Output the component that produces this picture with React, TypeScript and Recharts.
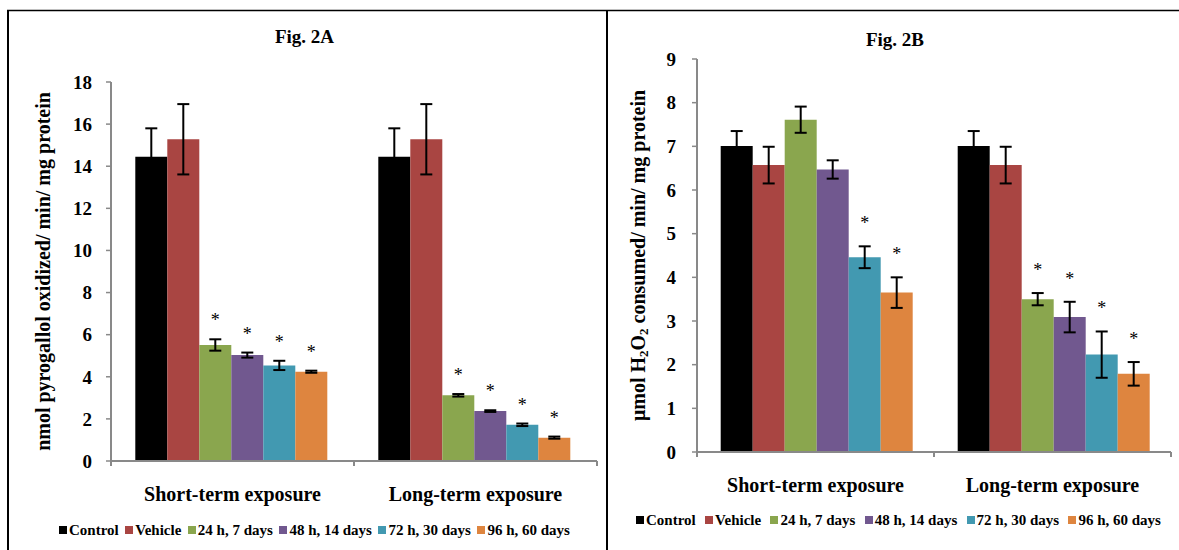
import React from 'react';
import { BarChart, Bar, XAxis, YAxis, ErrorBar, LabelList, Label } from 'recharts';

const FONT = '"Liberation Serif", "Times New Roman", Times, serif';
const AXIS_GRAY = '#898989';

const CATEGORIES = ['Short-term exposure', 'Long-term exposure'];
const SERIES_KEYS = ['control', 'vehicle', 'd7', 'd14', 'd30', 'd60'];
const SERIES_NAMES = ['Control', 'Vehicle', '24 h, 7 days', '48 h, 14 days', '72 h, 30 days', '96 h, 60 days'];
const SERIES_COLORS = ['#000000', '#A94542', '#8AA64E', '#71588F', '#4299B1', '#DE853F'];

// Fig. 2A  (nmol pyrogallol oxidized / min / mg protein)
const A_CONTROL = [14.45, 14.45];
const A_VEHICLE = [15.28, 15.28];
const A_D7 = [5.51, 3.12];
const A_D14 = [5.03, 2.37];
const A_D30 = [4.54, 1.72];
const A_D60 = [4.24, 1.11];
const A_CONTROL_SD = [1.35, 1.35];
const A_VEHICLE_SD = [1.67, 1.67];
const A_D7_SD = [0.27, 0.06];
const A_D14_SD = [0.12, 0.04];
const A_D30_SD = [0.22, 0.06];
const A_D60_SD = [0.05, 0.05];
const A_TICKS = [0, 2, 4, 6, 8, 10, 12, 14, 16, 18];
const A_STARRED = [['d7', 'd14', 'd30', 'd60'], ['d7', 'd14', 'd30', 'd60']];

// Fig. 2B  (umol H2O2 consumed / min / mg protein)
const B_CONTROL = [7.01, 7.01];
const B_VEHICLE = [6.57, 6.57];
const B_D7 = [7.61, 3.5];
const B_D14 = [6.47, 3.09];
const B_D30 = [4.46, 2.23];
const B_D60 = [3.65, 1.79];
const B_CONTROL_SD = [0.34, 0.34];
const B_VEHICLE_SD = [0.42, 0.42];
const B_D7_SD = [0.3, 0.14];
const B_D14_SD = [0.21, 0.35];
const B_D30_SD = [0.25, 0.53];
const B_D60_SD = [0.35, 0.27];
const B_TICKS = [0, 1, 2, 3, 4, 5, 6, 7, 8, 9];
const B_STARRED = [['d30', 'd60'], ['d7', 'd14', 'd30', 'd60']];

function buildRows(values: number[][], sds: number[][]) {
  return CATEGORIES.map((category, i) => {
    const row: Record<string, any> = { category };
    SERIES_KEYS.forEach((k, s) => {
      row[k] = values[s][i];
      row[k + 'Sd'] = sds[s][i];
    });
    return row;
  });
}

const rowsA = buildRows(
  [A_CONTROL, A_VEHICLE, A_D7, A_D14, A_D30, A_D60],
  [A_CONTROL_SD, A_VEHICLE_SD, A_D7_SD, A_D14_SD, A_D30_SD, A_D60_SD]
);
const rowsB = buildRows(
  [B_CONTROL, B_VEHICLE, B_D7, B_D14, B_D30, B_D60],
  [B_CONTROL_SD, B_VEHICLE_SD, B_D7_SD, B_D14_SD, B_D30_SD, B_D60_SD]
);

function makeStar(rows: any[], key: string, starred: string[][], gap: number) {
  return (props: any) => {
    const vb = props.viewBox || {};
    const x = Number(props.x ?? vb.x);
    const y = Number(props.y ?? vb.y);
    const w = Number(props.width ?? vb.width);
    const h = Number(props.height ?? vb.height);
    const idx = props.index;
    if (idx == null || !starred[idx] || !starred[idx].includes(key)) return null;
    const row = rows[idx];
    const value = row[key];
    const sd = row[key + 'Sd'];
    const pxPerUnit = Math.abs(h) / value;
    const top = Math.min(y, y + h) - sd * pxPerUnit;
    return (
      <text
        x={x + w / 2}
        y={top - gap + 9}
        textAnchor="middle"
        fontSize={18}
        fontFamily={FONT}
        fill="#000"
      >
        *
      </text>
    );
  };
}

function makeCategoryTick(fallbackHalf: number) {
  return (props: any) => {
    const { x, y, payload, index } = props;
    const half = payload && typeof payload.offset === 'number' && payload.offset > 0 ? payload.offset : fallbackHalf;
    const axisY = Number(y);
    return (
      <g>
        <line x1={x - half} y1={axisY} x2={x - half} y2={axisY + 5} stroke={AXIS_GRAY} strokeWidth={2} />
        {index === CATEGORIES.length - 1 ? (
          <line x1={x + half} y1={axisY} x2={x + half} y2={axisY + 5} stroke={AXIS_GRAY} strokeWidth={2} />
        ) : null}
        <text x={x} y={axisY + 40} textAnchor="middle" fontSize={20} fontWeight="bold" fontFamily={FONT} fill="#000">
          {payload.value}
        </text>
      </g>
    );
  };
}

const yLabelA = (props: any) => {
  const vb = props.viewBox || { x: 0, y: 82, width: 111, height: 379 };
  const cx = vb.x + 43;
  const cy = vb.y + vb.height / 2;
  return (
    <text
      x={cx}
      y={cy}
      transform={`rotate(-90 ${cx} ${cy})`}
      textAnchor="middle"
      dominantBaseline="central"
      fontSize={20}
      fontWeight="bold"
      fontFamily={FONT}
      fill="#000"
    >
      nmol pyrogallol oxidized/ min/ mg protein
    </text>
  );
};

const yLabelB = (props: any) => {
  const vb = props.viewBox || { x: 0, y: 59, width: 97, height: 393 };
  const cx = vb.x + 38;
  const cy = vb.y + vb.height / 2;
  return (
    <text
      x={cx}
      y={cy}
      transform={`rotate(-90 ${cx} ${cy})`}
      textAnchor="middle"
      dominantBaseline="central"
      fontSize={20}
      fontWeight="bold"
      fontFamily={FONT}
      fill="#000"
    >
      <tspan>μmol H</tspan>
      <tspan fontSize={13} dy={5}>2</tspan>
      <tspan dy={-5}>O</tspan>
      <tspan fontSize={13} dy={5}>2</tspan>
      <tspan dy={-5}> consumed/ min/ mg protein</tspan>
    </text>
  );
};

const tickStyle = { fontSize: 19, fontWeight: 'bold', fill: '#000', fontFamily: FONT };

function Legend({ left, top, width }: { left: number; top: number; width: number }) {
  return (
    <div
      style={{
        position: 'absolute',
        left,
        top,
        width,
        height: 20,
        display: 'flex',
        justifyContent: 'space-between',
        alignItems: 'center',
        fontFamily: FONT,
        fontWeight: 'bold',
        fontSize: 15,
        whiteSpace: 'nowrap',
        color: '#000',
      }}
    >
      {SERIES_NAMES.map((name, i) => (
        <span key={name} style={{ display: 'flex', alignItems: 'center' }}>
          <span style={{ display: 'inline-block', width: 8, height: 8, background: SERIES_COLORS[i], marginRight: 2 }} />
          <span>{name}</span>
        </span>
      ))}
    </div>
  );
}

function renderBars(rows: any[], starred: string[][], gap: number) {
  return SERIES_KEYS.map((k, i) => (
    <Bar key={k} dataKey={k} name={SERIES_NAMES[i]} fill={SERIES_COLORS[i]} isAnimationActive={false}>
      <ErrorBar dataKey={k + 'Sd'} width={6} strokeWidth={2} stroke="#000" isAnimationActive={false} />
      <LabelList dataKey={k} content={makeStar(rows, k, starred, gap)} />
    </Bar>
  ));
}

export default function App() {
  return (
    <div style={{ position: 'absolute', left: 0, top: 0, width: 1179, height: 550, background: '#fff', overflow: 'hidden' }}>
      <svg width={1179} height={550} style={{ position: 'absolute', left: 0, top: 0 }}>
        <line x1={7} y1={10.5} x2={1179} y2={10.5} stroke="#000" strokeWidth={1.5} />
        <line x1={8} y1={10} x2={8} y2={550} stroke="#000" strokeWidth={2} />
        <line x1={607} y1={10} x2={607} y2={550} stroke="#000" strokeWidth={2} />
        <text x={304.5} y={43} textAnchor="middle" fontSize={19} fontWeight="bold" fontFamily={FONT} fill="#000">
          Fig. 2A
        </text>
        <text x={895} y={46} textAnchor="middle" fontSize={19} fontWeight="bold" fontFamily={FONT} fill="#000">
          Fig. 2B
        </text>
      </svg>

      <div style={{ position: 'absolute', left: 0, top: 0 }}>
        <BarChart
          width={600}
          height={550}
          data={rowsA}
          margin={{ top: 82, right: 3, bottom: 49, left: 0 }}
          barCategoryGap="10%"
          barGap={0}
        >
          <XAxis
            dataKey="category"
            height={40}
            interval={0}
            tickLine={false}
            tickSize={0}
            tickMargin={0}
            axisLine={{ stroke: AXIS_GRAY, strokeWidth: 2 }}
            tick={makeCategoryTick(121.5)}
          />
          <YAxis
            width={111}
            domain={[0, 18]}
            ticks={A_TICKS}
            interval={0}
            tickSize={5}
            tickMargin={14}
            tickLine={{ stroke: AXIS_GRAY, strokeWidth: 1.5 }}
            axisLine={{ stroke: AXIS_GRAY, strokeWidth: 2 }}
            tick={tickStyle}
          >
            <Label content={yLabelA} />
          </YAxis>
          {renderBars(rowsA, A_STARRED, 22)}
        </BarChart>
      </div>

      <div style={{ position: 'absolute', left: 600, top: 0 }}>
        <BarChart
          width={579}
          height={550}
          data={rowsB}
          margin={{ top: 59, right: 8, bottom: 58, left: 0 }}
          barCategoryGap="10%"
          barGap={0}
        >
          <XAxis
            dataKey="category"
            height={40}
            interval={0}
            tickLine={false}
            tickSize={0}
            tickMargin={0}
            axisLine={{ stroke: AXIS_GRAY, strokeWidth: 2 }}
            tick={makeCategoryTick(118.5)}
          />
          <YAxis
            width={97}
            domain={[0, 9]}
            ticks={B_TICKS}
            interval={0}
            tickSize={5}
            tickMargin={16}
            tickLine={{ stroke: AXIS_GRAY, strokeWidth: 1.5 }}
            axisLine={{ stroke: AXIS_GRAY, strokeWidth: 2 }}
            tick={tickStyle}
          >
            <Label content={yLabelB} />
          </YAxis>
          {renderBars(rowsB, B_STARRED, 26)}
        </BarChart>
      </div>

      <Legend left={59} top={520} width={511} />
      <Legend left={636} top={510} width={525} />
    </div>
  );
}
